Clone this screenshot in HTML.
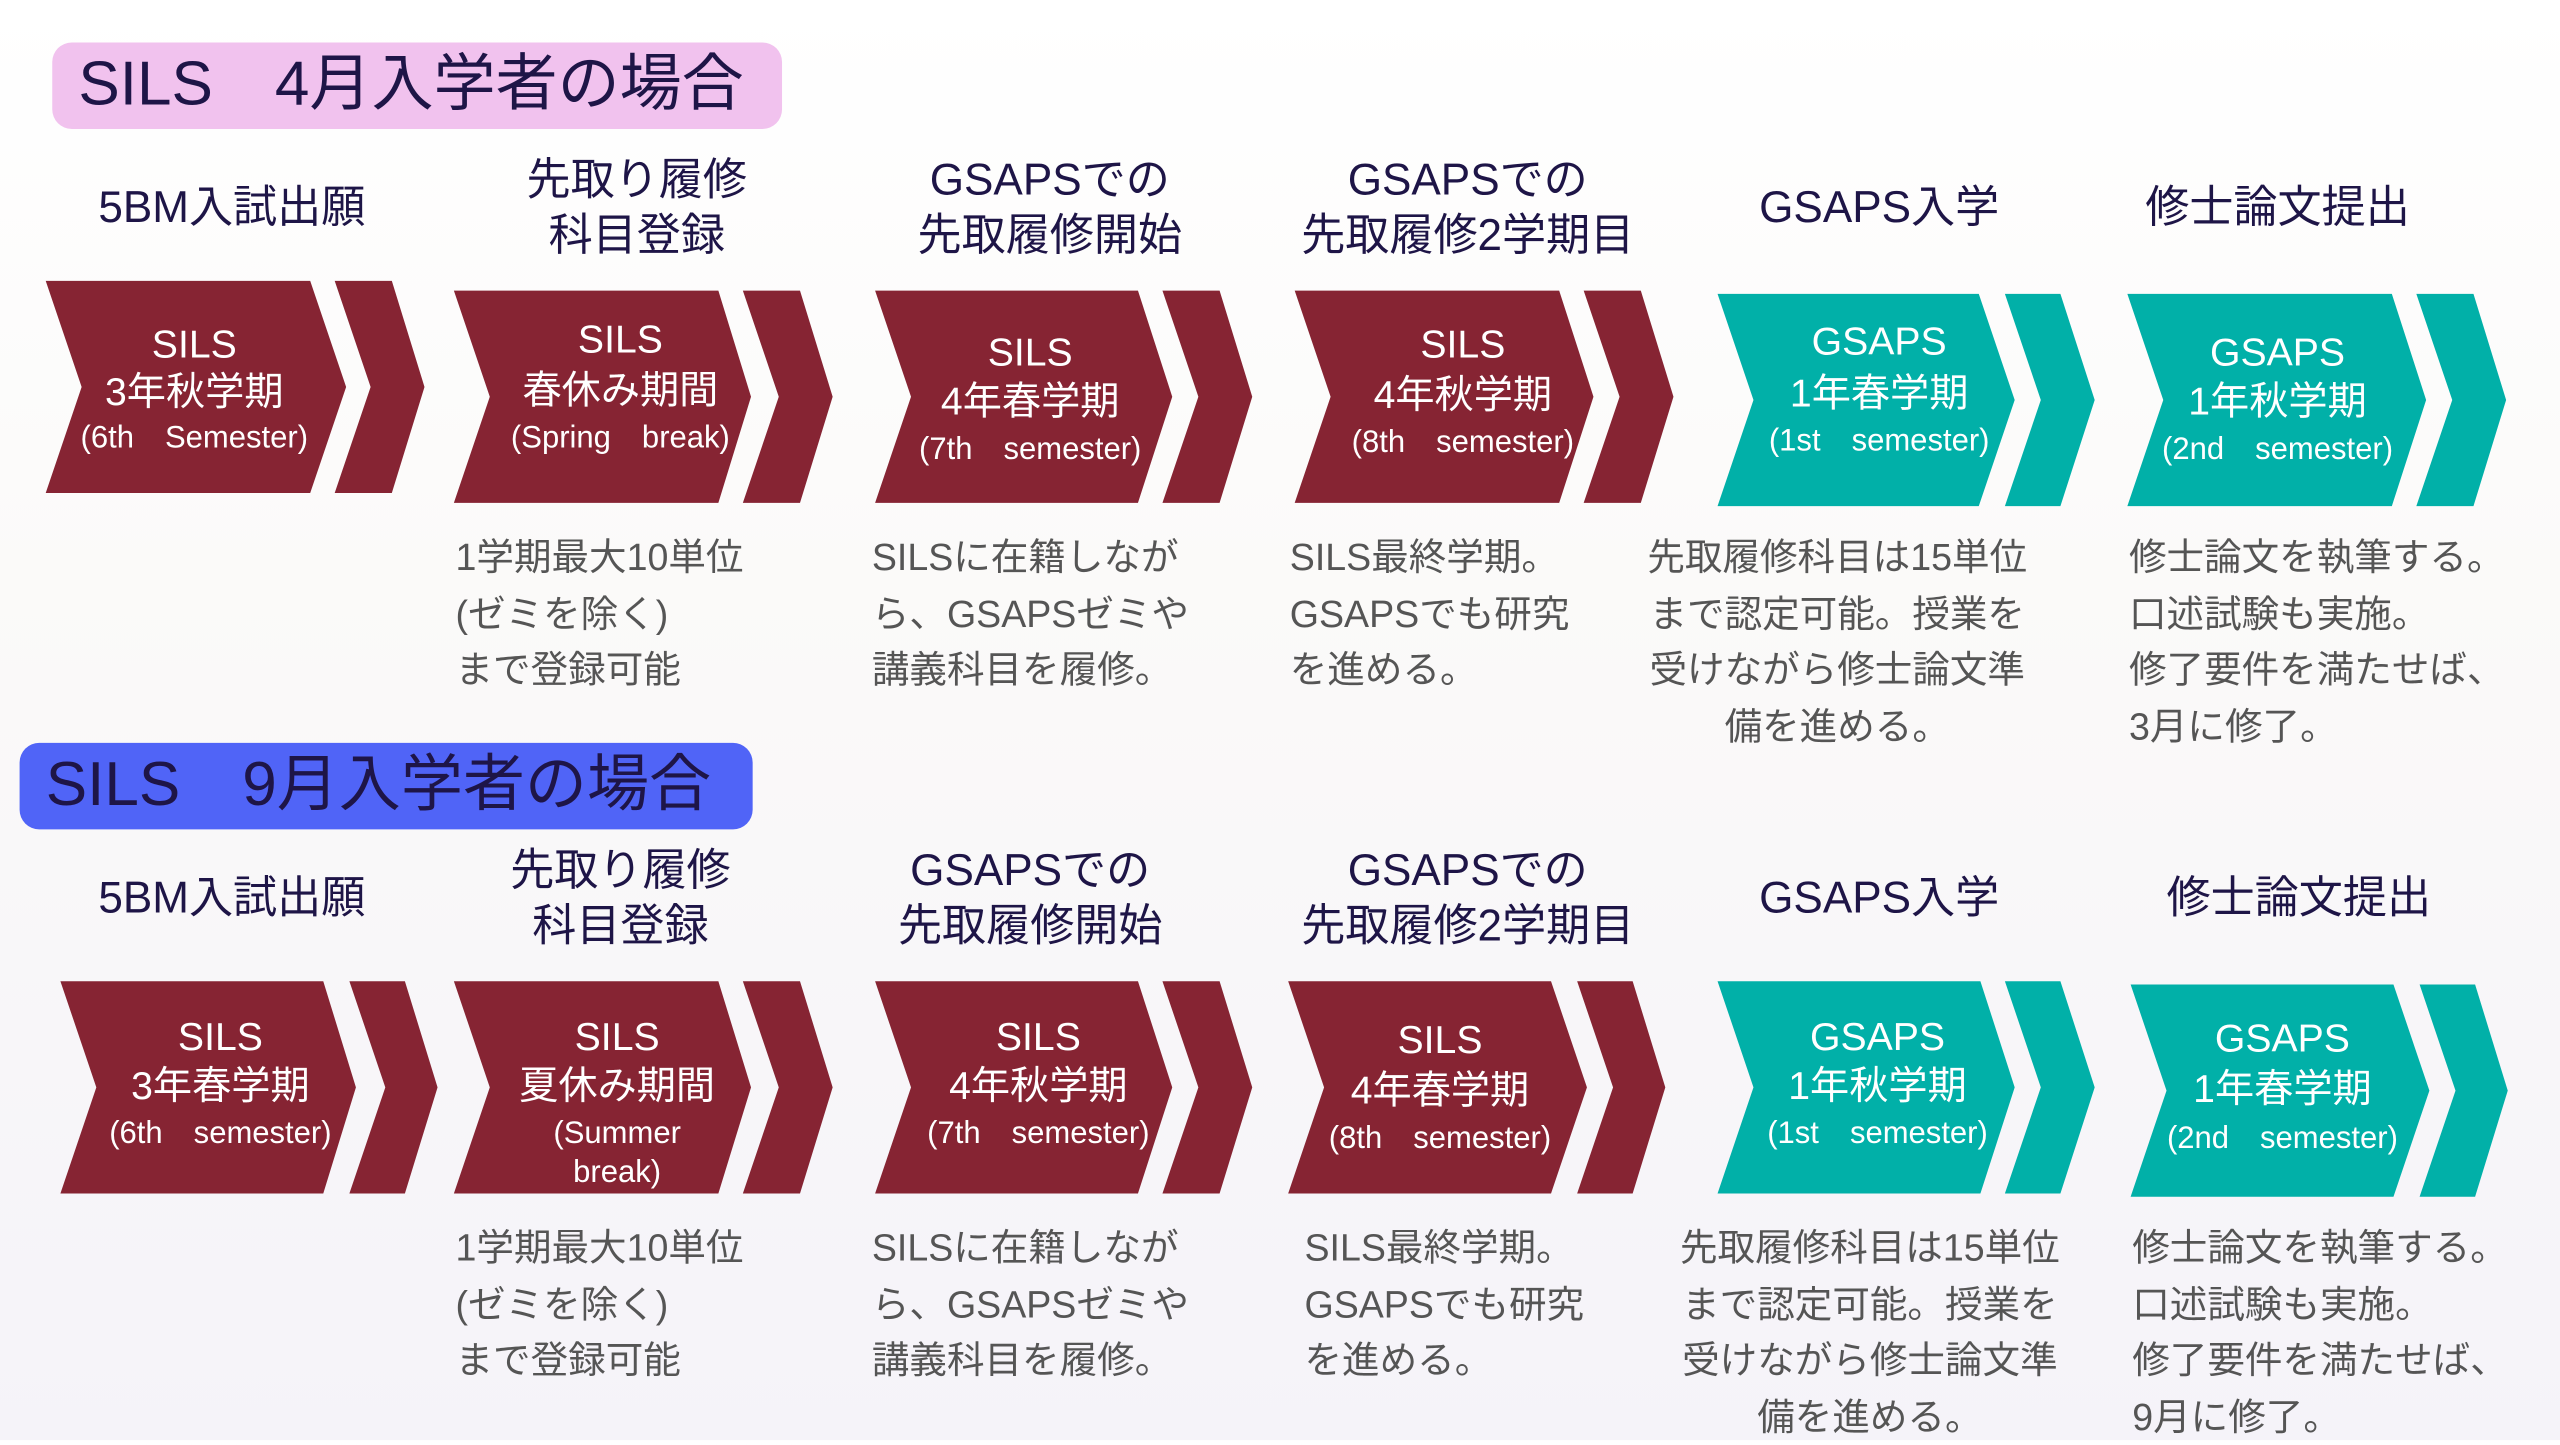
<!DOCTYPE html>
<html><head><meta charset="utf-8">
<style>
html,body{margin:0;padding:0;width:2560px;height:1440px;overflow:hidden;background:linear-gradient(#ffffff 0%,#fbfaf9 40%,#f5f3f9 100%);}
#w{position:absolute;left:0;top:0;width:1568px;height:882px;transform:scale(1.632653);transform-origin:0 0;font-family:"Liberation Sans","Noto Sans CJK JP",sans-serif;}
.t{position:absolute;white-space:nowrap;text-align:center;}
.c{color:#fff;width:300px;height:30px;line-height:30px;}
.c1{font-size:24px;}
.c2{font-size:19px;}
.h{color:#1e1547;font-size:27px;width:300px;height:34px;line-height:34px;}
.d{position:absolute;color:#555;font-size:23px;line-height:34.5px;white-space:nowrap;}
.box{position:absolute;border-radius:12px;color:#1e1547;font-size:38px;line-height:53px;padding-left:16px;box-sizing:border-box;white-space:pre;}
</style></head><body>
<div id="w">
<svg width="1568" height="882" style="position:absolute;left:0;top:0">
<g id="chev"></g>
</svg>
<div class="box" style="left:32px;top:26px;width:447px;height:53px;background:#f1c2ee;">SILS　4月入学者の場合</div>
<div class="box" style="left:12px;top:455px;width:449px;height:53px;background:#5064f7;">SILS　9月入学者の場合</div>
<div id="txt"></div>
</div>
<script>
var M="#862433",T="#01b0a8";
var ch=[
[28,172,302,190,212,205,240,260,M],[278,178,308,440,460,455,490,510,M],[536,178,308,697,718,712,747,767,M],[793,178,308,955,976,970,1005,1025,M],[1052,180,310,1212,1234,1228,1262,1283,T],[1303,180,310,1465,1486,1480,1515,1535,T],
[37,601,731,198,218,214,248,268,M],[278,601,731,440,460,455,490,510,M],[536,601,731,697,718,712,747,767,M],[789,601,731,950,972,966,1000,1020,M],[1052,601,731,1213,1234,1228,1262,1283,T],[1305,603,733,1466,1488,1482,1516,1536,T]];
var g="",d=22;
ch.forEach(function(c){var x0=c[0],y0=c[1],y1=c[2],m=(y0+y1)/2;
g+='<polygon fill="'+c[8]+'" points="'+x0+','+y0+' '+c[3]+','+y0+' '+c[4]+','+m+' '+c[3]+','+y1+' '+x0+','+y1+' '+(x0+d)+','+m+'"/>';
g+='<polygon fill="'+c[8]+'" points="'+c[5]+','+y0+' '+c[6]+','+y0+' '+c[7]+','+m+' '+c[6]+','+y1+' '+c[5]+','+y1+' '+(c[5]+d)+','+m+'"/>';});
document.getElementById("chev").innerHTML=g;
var h="";
function L(cls,cx,cy,s,hh){h+='<div class="t '+cls+'" style="left:'+(cx-150)+'px;top:'+(cy-(hh||15))+'px">'+s+'</div>';}
var ct=[
[119,[212,241,269],["SILS","3年秋学期","(6th　Semester)"]],
[380,[209,240,269],["SILS","春休み期間","(Spring　break)"]],
[631,[217,247,276],["SILS","4年春学期","(7th　semester)"]],
[896,[212,243,272],["SILS","4年秋学期","(8th　semester)"]],
[1151,[210,242,271],["GSAPS","1年春学期","(1st　semester)"]],
[1395,[217,247,276],["GSAPS","1年秋学期","(2nd　semester)"]],
[135,[636,666,695],["SILS","3年春学期","(6th　semester)"]],
[378,[636,666,695,719],["SILS","夏休み期間","(Summer","break)"]],
[636,[636,666,695],["SILS","4年秋学期","(7th　semester)"]],
[882,[638,669,698],["SILS","4年春学期","(8th　semester)"]],
[1150,[636,666,695],["GSAPS","1年秋学期","(1st　semester)"]],
[1398,[637,668,698],["GSAPS","1年春学期","(2nd　semester)"]]];
ct.forEach(function(c){c[2].forEach(function(s,i){L(i<2?"c c1":"c c2",c[0],c[1][i],s);});});
var hd=[[142,[127],["5BM入試出願"]],[390,[110,144],["先取り履修","科目登録"]],[643,[110,144],["GSAPSでの","先取履修開始"]],[899,[110,144],["GSAPSでの","先取履修2学期目"]],[1151,[127],["GSAPS入学"]],[1395,[127],["修士論文提出"]],
[142,[550],["5BM入試出願"]],[380,[533,567],["先取り履修","科目登録"]],[631,[533,567],["GSAPSでの","先取履修開始"]],[899,[533,567],["GSAPSでの","先取履修2学期目"]],[1151,[550],["GSAPS入学"]],[1408,[550],["修士論文提出"]]];
hd.forEach(function(c){c[2].forEach(function(s,i){L("h",c[0],c[1][i],s,17);});});
function D(x,y,s,center){h+='<div class="d" style="left:'+x+'px;top:'+(y-17)+'px;'+(center?'text-align:center;':'')+'">'+s+'</div>';}
[[0,341],[423,764]].forEach(function(r,k){var y=r[1];
D(279,y,"1学期最大10単位<br>(ゼミを除く)<br>まで登録可能");
D(534,y,"SILSに在籍しなが<br>ら、GSAPSゼミや<br>講義科目を履修。");
D(k?799:790,y,"SILS最終学期。<br>GSAPSでも研究<br>を進める。");
D(k?1029:1009,y,"先取履修科目は15単位<br>まで認定可能。授業を<br>受けながら修士論文準<br>備を進める。",true);
D(k?1306:1304,y,"修士論文を執筆する。<br>口述試験も実施。<br>修了要件を満たせば、<br>"+(k?"9":"3")+"月に修了。");});
document.getElementById("txt").innerHTML=h;
</script>
</body></html>
